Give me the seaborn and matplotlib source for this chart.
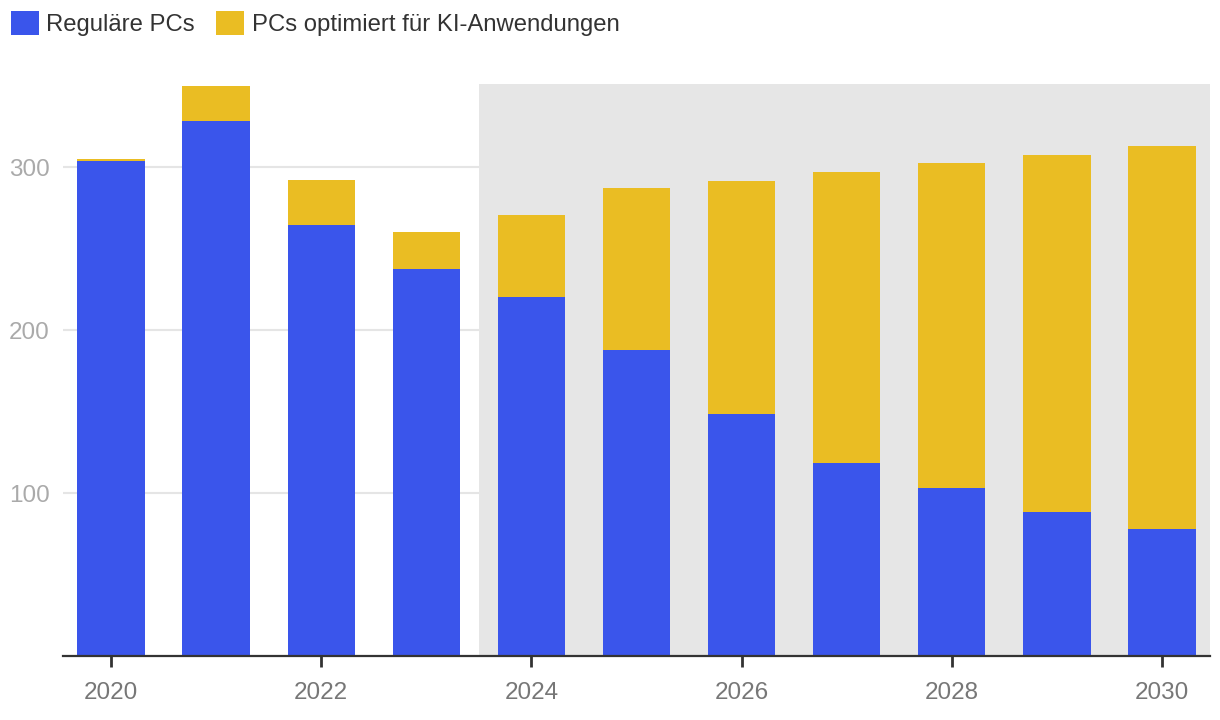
import matplotlib
matplotlib.use("Agg")
import matplotlib.pyplot as plt
from matplotlib.patches import Patch
import seaborn as sns
import pandas as pd

years = [2020, 2021, 2022, 2023, 2024, 2025, 2026, 2027, 2028, 2029, 2030]
regular = [303.5, 328, 264.5, 237.5, 220, 188, 148.5, 118.5, 103, 88.5, 78]
ai_pcs = [1.5, 22, 27.5, 22.5, 50.5, 99, 143, 178.5, 199.5, 219, 235]
series_names = ["Reguläre PCs", "PCs optimiert für KI-Anwendungen"]
xticks = [2020, 2022, 2024, 2026, 2028, 2030]
yticks = [100, 200, 300]

blue = "#3a55eb"
yellow = "#eabd23"

df = pd.DataFrame({"year": years, "regular": regular, "ai": ai_pcs})
df["total"] = df["regular"] + df["ai"]

sns.set_style("white")
plt.rcParams["font.family"] = ["Liberation Sans", "DejaVu Sans"]

fig = plt.figure(figsize=(12.2, 7.2), dpi=100)
ax = fig.add_axes([63 / 1220, 64 / 720, 1147 / 1220, 572 / 720])

# forecast shading
ax.axvspan(2023.5, 2031, color="#e6e6e6", zorder=1, lw=0)

sns.barplot(data=df, x="year", y="total", native_scale=True, width=0.64,
            color=yellow, saturation=1, ax=ax, zorder=3, linewidth=0)
sns.barplot(data=df, x="year", y="regular", native_scale=True, width=0.64,
            color=blue, saturation=1, ax=ax, zorder=4, linewidth=0)

ax.set_xlim(2019.543, 2030.457)
ax.set_ylim(0, 351)
ax.set_xticks(xticks)
ax.set_xticklabels([str(x) for x in xticks])
ax.set_yticks(yticks)
ax.set_xlabel("")
ax.set_ylabel("")

ax.set_axisbelow(True)
ax.yaxis.grid(True, color="#e5e5e5", lw=1.5, zorder=0.5)
ax.xaxis.grid(False)

for s in ["left", "right", "top"]:
    ax.spines[s].set_visible(False)
ax.spines["bottom"].set_color("#333333")
ax.spines["bottom"].set_linewidth(1.6)
ax.spines["bottom"].set_zorder(5)

ax.tick_params(axis="x", length=8, width=2, color="#333333", labelcolor="#777777",
               labelsize=17.5, pad=11, bottom=True)
ax.tick_params(axis="y", length=0, labelcolor="#aaaaaa", labelsize=17.5, pad=9.5)

handles = [Patch(facecolor=blue, edgecolor="none"),
           Patch(facecolor=yellow, edgecolor="none")]
fig.legend(handles, series_names, loc="upper left", bbox_to_anchor=(0.0, 1.0),
           ncol=2, frameon=False, handlelength=1.17, handleheight=1.17,
           handletextpad=0.3, columnspacing=0.92, fontsize=17.2,
           labelcolor="#333333", borderaxespad=0.25, borderpad=0.2)

fig.savefig("out.png", dpi=100)
